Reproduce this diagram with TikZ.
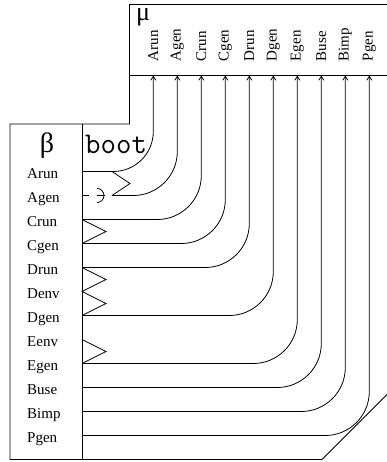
\documentclass[tikz,border=0pt]{standalone}
\usepackage{fontspec}
\setmainfont{Liberation Serif}
\usetikzlibrary{arrows.meta}
\begin{document}
\begin{tikzpicture}[x=1pt,y=-1pt,
  frame/.style={line width=0.8pt},
  wire/.style={line width=0.8pt, rounded corners=44pt},
  zig/.style={line width=0.8pt},
  lab/.style={font=\fontsize{15}{15}\selectfont, anchor=base west, inner sep=0pt},
  rlab/.style={font=\fontsize{15}{15}\selectfont, anchor=west, rotate=90, inner sep=0pt},
  tip/.style={-{Straight Barb[length=4pt,width=5pt]}}
]
\useasboundingbox (0,0) rectangle (386,462);

% frame
\draw[frame] (10,459.5) -- (10,124) -- (129.5,124) -- (129.5,4.5) -- (395,4.5)
  -- (395,386.5) -- (322,459.5) -- cycle;
\draw[frame] (82,124) -- (82,459.5);
\draw[frame] (129.5,75.5) -- (395,75.5);

% titles
\node[font=\fontsize{28}{28}\selectfont, anchor=base, inner sep=0pt] (beta) at (47,153) {β};
\node[font=\fontsize{26}{26}\selectfont, anchor=base west, inner sep=0pt] (mu) at (136,21) {μ};
\node[font=\ttfamily\fontsize{30}{30}\selectfont, anchor=base west, inner sep=0pt] (boot) at (85,154) {boot};

% left labels and ports
\foreach \n [count=\i from 0] in {Arun,Agen,Crun,Cgen,Drun,Denv,Dgen,Eenv,Egen,Buse,Bimp,Pgen} {
  \node[lab] (l\n) at (27,{178.5+24*\i}) {\n};
  \coordinate (b\n) at (82,{171.5+24*\i});
}
% top labels and ports
\foreach \n [count=\i from 0] in {Arun,Agen,Crun,Cgen,Drun,Dgen,Egen,Buse,Bimp,Pgen} {
  \node[rlab] (t\n) at ({153.3+24*\i},61.5) {\n};
  \coordinate (m\n) at ({153.3+24*\i},75.5);
}

% zigzags
\coordinate (zA) at (112,171.5);
\coordinate (zA1) at (130,183.5);
\coordinate (zAg) at (112,195.5);
\draw[zig] (zA) -- (zA1) -- (zAg);
\coordinate (zC1) at (106,231.5);
\draw[zig] (bCrun) -- (zC1) -- (bCgen);
\coordinate (zD1) at (106,279.5);
\coordinate (zD2) at (106,303.5);
\draw[zig] (bDrun) -- (zD1) -- (bDenv) -- (zD2) -- (bDgen);
\coordinate (zE1) at (106,351.5);
\draw[zig] (bEenv) -- (zE1) -- (bEgen);

% Agen stub symbol
\coordinate (aS) at (88.5,195.5);
\draw[zig] (bAgen) -- (aS);
\draw[zig] (97,188.5) arc[start angle=-90, end angle=90, radius=7];
\draw[zig] (97,195.5) -- (104.5,195.5);

% wires
\draw[wire, rounded corners=40pt, tip] (bArun) -| (mArun);
\draw[wire, tip] (zAg) -| (mAgen);
\foreach \n in {Crun,Cgen,Drun,Dgen,Egen,Buse,Bimp,Pgen} {
  \draw[wire, tip] (b\n) -| (m\n);
}
\end{tikzpicture}
\end{document}
